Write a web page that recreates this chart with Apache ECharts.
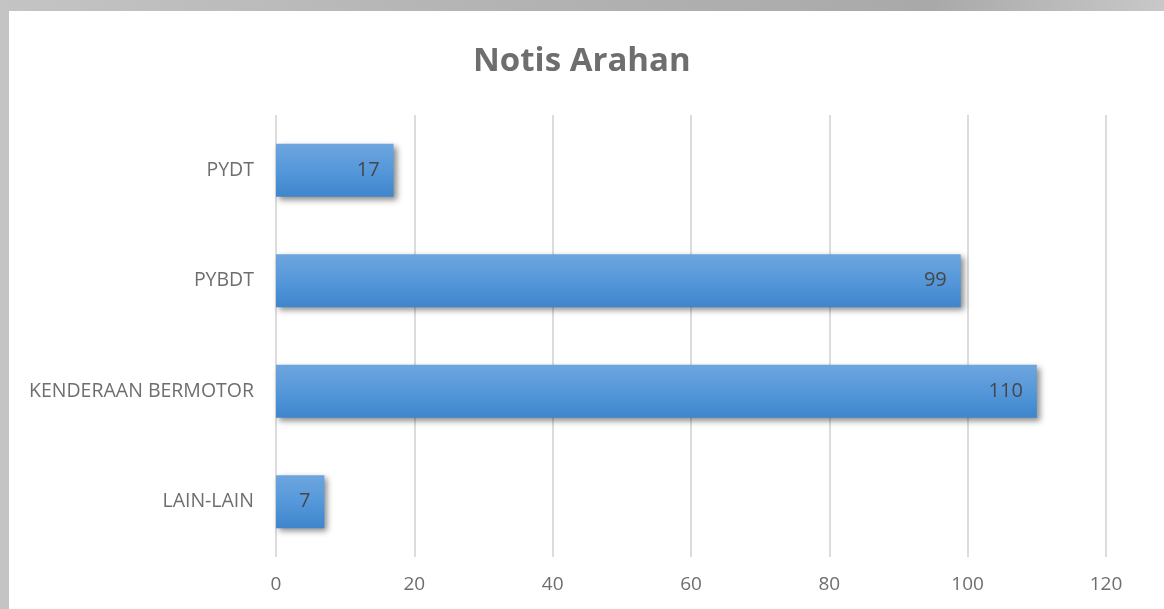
<!DOCTYPE html>
<html>
<head>
<meta charset="utf-8">
<script src="https://cdn.jsdelivr.net/npm/echarts@6/dist/echarts.min.js"></script>
<style>
  html, body { margin: 0; padding: 0; }
  body {
    width: 1164px; height: 609px; overflow: hidden; position: relative;
    background: linear-gradient(90deg, #c4c4c4 0%, #b4b4b4 40%, #a9a9a9 80%, #c8c8c8 100%);
  }
  #chart {
    position: absolute; left: 9px; top: 11px; width: 1155px; height: 598px;
    background: #ffffff;
  }
</style>
</head>
<body>
<div id="chart"></div>
<script>
// data
const titleText = 'Notis Arahan'
const categories = ['LAIN-LAIN', 'KENDERAAN BERMOTOR', 'PYBDT', 'PYDT']
const values = [7, 110, 99, 17]
const axisMax = 120
const axisStep = 20

const chart = echarts.init(document.getElementById('chart'))

const fontFamily = '"Open Sans", "Noto Sans", sans-serif'

const option = {
  animation: false,
  title: {
    text: titleText,
    left: 459,
    top: 29,
    textStyle: {
      fontFamily,
      fontSize: 33,
      fontWeight: 'bold',
      color: '#6e6e6e'
    }
  },
  grid: {
    left: 267,
    right: 58,
    top: 104,
    bottom: 52
  },
  xAxis: {
    type: 'value',
    min: 0,
    max: axisMax,
    interval: axisStep,
    axisLine: { show: false },
    axisTick: { show: false },
    axisLabel: {
      margin: 18,
      fontFamily,
      fontSize: 19,
      color: '#6e6e6e'
    },
    splitLine: {
      lineStyle: { color: '#dcdcdc', width: 2 }
    }
  },
  yAxis: {
    type: 'category',
    data: categories,
    axisLine: { show: false },
    axisTick: { show: false },
    axisLabel: {
      margin: 22,
      fontFamily,
      fontSize: 19.5,
      color: '#6e6e6e'
    }
  },
  series: [
    {
      type: 'bar',
      data: values,
      barWidth: '48%',
      itemStyle: {
        color: new echarts.graphic.LinearGradient(0, 0, 0, 1, [
          { offset: 0, color: '#6ea5de' },
          { offset: 0.5, color: '#5598da' },
          { offset: 1, color: '#3e85cc' }
        ]),
        shadowColor: 'rgba(0, 0, 0, 0.45)',
        shadowBlur: 6,
        shadowOffsetX: 3,
        shadowOffsetY: 3
      },
      label: {
        show: true,
        position: 'insideRight',
        distance: 14,
        fontFamily,
        fontSize: 20,
        color: '#474747'
      }
    }
  ]
}

chart.setOption(option)
</script>
</body>
</html>
